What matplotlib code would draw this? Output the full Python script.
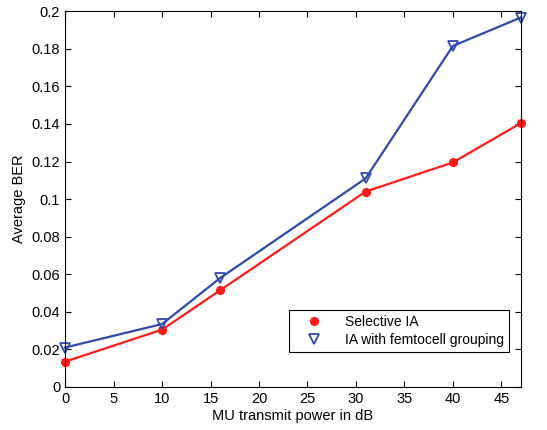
import matplotlib
matplotlib.use("Agg")
import matplotlib.pyplot as plt

plt.rcParams["font.family"] = ["Liberation Sans", "DejaVu Sans"]

potencia = [0, 10, 16, 31, 40, 47]
ber_selectiva = [0.0135, 0.0305, 0.0515, 0.104, 0.1195, 0.1404]
ber_grupos = [0.021, 0.0335, 0.058, 0.111, 0.1815, 0.1966]

fig = plt.figure(figsize=(5.47, 4.30), dpi=100)
ax = fig.add_axes([0.119, 0.1, 0.833, 0.874])

ax.plot(potencia, ber_selectiva, color="#ff1a1a", lw=1.6, marker=(8, 2, 0),
        ms=6.5, mew=1.7, label="Selective IA", clip_on=False)
ax.plot(potencia, ber_grupos, color="#2e4aa8", lw=1.6, marker="v", ms=7,
        mfc="none", mew=1.3, label="IA with femtocell grouping", clip_on=False)

ax.set_xlim(0, 47)
ax.set_ylim(0, 0.2)
ax.set_xticks(range(0, 50, 5))
ax.set_yticks([0, 0.02, 0.04, 0.06, 0.08, 0.1, 0.12, 0.14, 0.16, 0.18, 0.2])
ax.set_yticklabels(["0", "0.02", "0.04", "0.06", "0.08", "0.1", "0.12",
                    "0.14", "0.16", "0.18", "0.2"])
ax.tick_params(direction="in", top=True, right=True, labelsize=10.5, length=4)
ax.set_xlabel("MU transmit power in dB", fontsize=10.5, labelpad=2)
ax.set_ylabel("Average BER", fontsize=10.5)

leg = ax.legend(loc="lower right", bbox_to_anchor=(0.974, 0.093), fontsize=10,
                fancybox=False, framealpha=1, edgecolor="black",
                borderaxespad=0, handlelength=2.9, handletextpad=0.8,
                borderpad=0.35, labelspacing=0.3)
leg.get_frame().set_linewidth(0.8)
for linea in leg.get_lines():
    linea.set_linestyle("none")

fig.savefig("out.png", dpi=100, facecolor="white")
